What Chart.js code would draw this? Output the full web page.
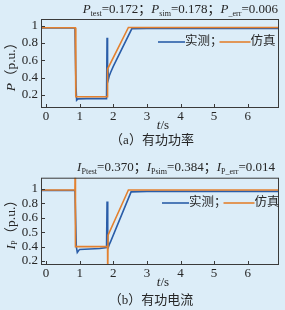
<!DOCTYPE html>
<html>
<head>
<meta charset="utf-8">
<script src="https://cdn.jsdelivr.net/npm/chart.js@4.4.1/dist/chart.umd.min.js"></script>
<style>
  html, body { margin: 0; padding: 0; background: #dcedf8; width: 285px; height: 310px; overflow: hidden; }
  .box { position: absolute; left: 0; width: 285px; height: 155px; }
</style>
</head>
<body>
<div class="box" style="top:0"><canvas id="chartP" width="285" height="155"></canvas></div>
<div class="box" style="top:155px"><canvas id="chartI" width="285" height="155"></canvas></div>
<script>
// ---- data ----
// (a) active power P, p.u.
const tP_test = [-0.15, 0.86, 0.89, 0.91, 0.95, 1.2, 1.5, 1.8, 1.815, 1.83, 1.86, 1.88, 1.92, 2.0, 2.55, 3, 4, 5, 6, 6.95];
const pTest   = [0.975, 0.975, 0.30, 0.14, 0.155, 0.158, 0.158, 0.158, 0.86, 0.55, 0.39, 0.42, 0.46, 0.53, 0.965, 0.968, 0.968, 0.968, 0.968, 0.968];
const tP_sim  = [-0.15, 0.87, 0.885, 1.82, 1.83, 2.45, 3, 4, 5, 6, 6.95];
const pSim    = [0.977, 0.977, 0.18, 0.18, 0.50, 0.98, 0.98, 0.98, 0.98, 0.98, 0.98];

// (b) active current Ip, p.u.
const tI_test = [-0.15, 0.86, 0.90, 0.93, 0.97, 1.0, 1.3, 1.6, 1.8, 1.815, 1.835, 1.86, 1.88, 1.93, 2.53, 3, 4, 5, 6, 6.95];
const iTest   = [0.985, 0.985, 0.40, 0.34, 0.36, 0.37, 0.375, 0.38, 0.39, 0.87, 0.45, 0.40, 0.42, 0.46, 0.97, 0.975, 0.975, 0.975, 0.975, 0.975];
const tI_sim  = [-0.15, 0.86, 0.865, 0.875, 1.83, 1.835, 1.845, 2.45, 3, 4, 5, 6, 6.95];
const iSim    = [0.99, 0.99, 1.25, 0.40, 0.40, 0.10, 0.52, 0.99, 0.99, 0.99, 0.99, 0.99, 0.99];

// ticks
const xTicks = [0, 1, 2, 3, 4, 5, 6];
const pTicks = [0.2, 0.4, 0.6, 0.8, 1];
const pTickLabels = ['0.2', '0.4', '0.6', '0.8', '1'];
const iTicks = [0.25, 0.4, 0.55, 0.7, 0.85, 1];
const iTickLabels = ['0.2', '0.4', '0.5', '0.6', '0.8', '1'];

const BLUE = '#2a5da8';
const ORANGE = '#e3812f';
const INK = '#262626';
const SERIF = '"Liberation Serif", "Noto Sans CJK SC", serif';

function pts(ts, vs) {
  return ts.map((t, i) => ({ x: t, y: vs[i] }));
}

// draw a run of mixed text (italic / subscript pieces)
function richWidth(ctx, parts, size) {
  let w = 0;
  parts.forEach(p => {
    ctx.font = (p.i ? 'italic ' : '') + (p.s ? size * 0.62 : size) + 'px ' + SERIF;
    w += ctx.measureText(p.t).width;
  });
  return w;
}
function drawRich(ctx, parts, x, y, align, size) {
  const w = richWidth(ctx, parts, size);
  let cx = align === 'right' ? x - w : align === 'center' ? x - w / 2 : x;
  ctx.textBaseline = 'middle';
  ctx.textAlign = 'left';
  ctx.fillStyle = INK;
  parts.forEach(p => {
    ctx.font = (p.i ? 'italic ' : '') + (p.s ? size * 0.62 : size) + 'px ' + SERIF;
    ctx.fillText(p.t, cx, p.s ? y + size * 0.3 : y);
    cx += ctx.measureText(p.t).width;
  });
}

function decoPlugin(cfg) {
  return {
    id: 'deco',
    afterDraw(chart) {
      const ctx = chart.ctx;
      const a = chart.chartArea;
      const xs = chart.scales.x, ys = chart.scales.y;
      ctx.save();
      // frame
      ctx.strokeStyle = '#3a3a3a';
      ctx.lineWidth = 1;
      ctx.strokeRect(a.left + 0.5, a.top + 0.5, a.right - a.left - 1, a.bottom - a.top - 1);
      // inward ticks
      ctx.beginPath();
      xTicks.forEach(v => {
        const px = Math.round(xs.getPixelForValue(v)) + 0.5;
        ctx.moveTo(px, a.bottom);
        ctx.lineTo(px, a.bottom - 4);
      });
      cfg.yTicks.forEach(v => {
        const py = Math.round(ys.getPixelForValue(v)) + 0.5;
        ctx.moveTo(a.left, py);
        ctx.lineTo(a.left + 4, py);
      });
      ctx.stroke();

      // header
      drawRich(ctx, cfg.header, cfg.headerX, cfg.headerY, 'right', 13);

      // legend
      let lx = cfg.legX;
      const ly = cfg.legY;
      ctx.lineWidth = 1.6;
      ctx.strokeStyle = BLUE;
      ctx.beginPath(); ctx.moveTo(lx, ly); ctx.lineTo(lx + 27, ly); ctx.stroke();
      lx += 27;
      ctx.font = '12.5px ' + SERIF;
      ctx.fillStyle = INK;
      ctx.textBaseline = 'middle';
      ctx.textAlign = 'left';
      ctx.fillText('实测；', lx, ly);
      lx += ctx.measureText('实测；').width - 3;
      ctx.strokeStyle = ORANGE;
      ctx.beginPath(); ctx.moveTo(lx, ly); ctx.lineTo(lx + 31, ly); ctx.stroke();
      lx += 31;
      ctx.fillText('仿真', lx, ly);

      // axis titles
      drawRich(ctx, [{ t: 't', i: true }, { t: '/s' }], cfg.xtX, cfg.xtY, 'center', 13);
      ctx.save();
      ctx.translate(cfg.ytX, (a.top + a.bottom) / 2);
      ctx.rotate(-Math.PI / 2);
      drawRich(ctx, cfg.ylab, 0, 0, 'center', 13.5);
      ctx.restore();

      // caption
      drawRich(ctx, [{ t: cfg.caption }], cfg.capX, cfg.capY, 'center', 13);
      ctx.restore();
    }
  };
}

function makeChart(id, sim, test, yMin, yMax, yTicks, yLabels, padTop, xHeight, cfg) {
  cfg.yTicks = yTicks;
  return new Chart(document.getElementById(id), {
    type: 'line',
    data: {
      datasets: [
        { label: '仿真', data: sim, borderColor: ORANGE, borderWidth: 1.6, pointRadius: 0, order: 1, tension: 0 },
        { label: '实测', data: test, borderColor: BLUE, borderWidth: 1.6, pointRadius: 0, order: 2, tension: 0 }
      ]
    },
    options: {
      responsive: false,
      animation: false,
      layout: { padding: { top: padTop, right: 6, left: 0, bottom: 0 } },
      plugins: { legend: { display: false }, tooltip: { enabled: false }, title: { display: false } },
      scales: {
        x: {
          type: 'linear', min: -0.15, max: 6.93,
          grid: { display: false, drawTicks: false }, border: { display: false },
          afterBuildTicks: s => { s.ticks = xTicks.map(v => ({ value: v })); },
          afterFit: s => { s.height = xHeight; },
          ticks: { autoSkip: false, maxRotation: 0, padding: 1, color: INK,
                   font: { family: SERIF, size: 13 }, callback: v => String(v) }
        },
        y: {
          type: 'linear', min: yMin, max: yMax,
          grid: { display: false, drawTicks: false }, border: { display: false },
          afterBuildTicks: s => { s.ticks = yTicks.map(v => ({ value: v })); },
          afterFit: s => { s.width = 41; },
          ticks: { autoSkip: false, padding: 3, color: INK,
                   font: { family: SERIF, size: 13 },
                   callback: v => yLabels[yTicks.indexOf(v)] }
        }
      }
    },
    plugins: [decoPlugin(cfg)]
  });
}

makeChart('chartP', pts(tP_sim, pSim), pts(tP_test, pTest), 0.05, 1.078, pTicks, pTickLabels, 19, 47, {
  header: [{ t: 'P', i: true }, { t: 'test', s: true }, { t: '=0.172；' },
           { t: 'P', i: true }, { t: 'sim', s: true }, { t: '=0.178；' },
           { t: 'P', i: true }, { t: '_err', s: true }, { t: '=0.006' }],
  headerX: 278, headerY: 10,
  legX: 158, legY: 42,
  xtX: 163, xtY: 126,
  ytX: 11,
  ylab: [{ t: 'P', i: true }, { t: '（p.u.）' }],
  caption: '（a）有功功率', capX: 152, capY: 141
});

makeChart('chartI', pts(tI_sim, iSim), pts(tI_test, iTest), 0.208, 1.118, iTicks, iTickLabels, 22.7, 45, {
  header: [{ t: 'I', i: true }, { t: 'Ptest', s: true }, { t: '=0.370；' },
           { t: 'I', i: true }, { t: 'Psim', s: true }, { t: '=0.384；' },
           { t: 'I', i: true }, { t: 'P_err', s: true }, { t: '=0.014' }],
  headerX: 275, headerY: 13,
  legX: 162, legY: 48,
  xtX: 163, xtY: 128,
  ytX: 11,
  ylab: [{ t: 'I', i: true }, { t: 'P', s: true }, { t: '（p.u.）' }],
  caption: '（b）有功电流', capX: 151, capY: 146
});
</script>
</body>
</html>
